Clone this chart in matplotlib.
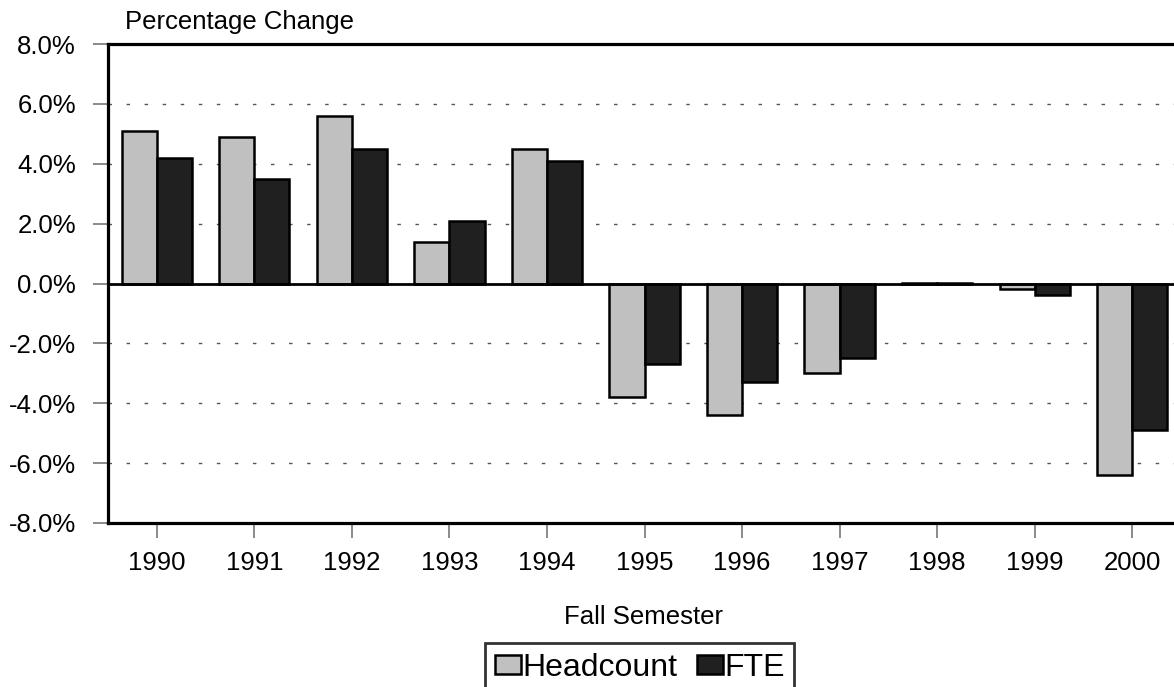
import numpy as np
import matplotlib.pyplot as plt

plt.rcParams['font.family'] = ['Liberation Sans', 'DejaVu Sans']

years = ['1990', '1991', '1992', '1993', '1994', '1995', '1996', '1997', '1998', '1999', '2000']
headcount = [5.1, 4.9, 5.6, 1.4, 4.5, -3.8, -4.4, -3.0, 0.02, -0.2, -6.4]
fte = [4.2, 3.5, 4.5, 2.1, 4.1, -2.7, -3.3, -2.5, 0.02, -0.4, -4.9]
yticks = [-8, -6, -4, -2, 0, 2, 4, 6, 8]

fig = plt.figure(figsize=(11.74, 6.87), dpi=100)
ax = fig.add_axes([108 / 1174, 1 - 523 / 687, 1073 / 1174, 479 / 687])

x = np.arange(len(years))
w = 0.36
ax.bar(x - w / 2, headcount, w, color='#c0c0c0', edgecolor='black', linewidth=1.8,
       label='Headcount', zorder=3)
ax.bar(x + w / 2, fte, w, color='#202020', edgecolor='black', linewidth=1.8,
       label='FTE', zorder=3)

ax.set_xlim(-0.5, len(years) - 0.5)
ax.set_ylim(-8, 8)
ax.set_yticks(yticks)
ax.set_yticklabels([f'{v:.1f}%' for v in yticks])
ax.set_xticks(x)
ax.set_xticklabels(years)

# dashed grid lines, zero line solid
for v in yticks:
    if v in (-8, 0, 8):
        continue
    ax.axhline(v, color='#555555', linewidth=1.0, linestyle=(0, (2.5, 10.5)), zorder=1)
ax.axhline(0, color='black', linewidth=2.0, zorder=4)

for s in ['left', 'bottom', 'top']:
    ax.spines[s].set_linewidth(2.3)
ax.spines['right'].set_visible(False)
ax.tick_params(axis='both', direction='out', length=11, width=1.2, color='#777777',
               labelsize=18.5)
ax.tick_params(axis='y', pad=12)
ax.tick_params(axis='x', pad=9)

fig.text(125 / 1174, 1 - 22 / 687, 'Percentage Change', fontsize=18.5, va='center', ha='left')
fig.text(644 / 1174, 1 - 617 / 687, 'Fall Semester', fontsize=18.5, va='center', ha='center')

leg = fig.legend(loc='upper left', bbox_to_anchor=(485 / 1174, 1 - 643 / 687),
                 ncol=2, fontsize=23, frameon=True, fancybox=False, edgecolor='black',
                 handlelength=0.82, handleheight=0.55, handletextpad=0.05,
                 columnspacing=0.6, borderpad=0.3, borderaxespad=0)
leg.get_frame().set_linewidth(2.0)

fig.savefig('out.png', dpi=100)
